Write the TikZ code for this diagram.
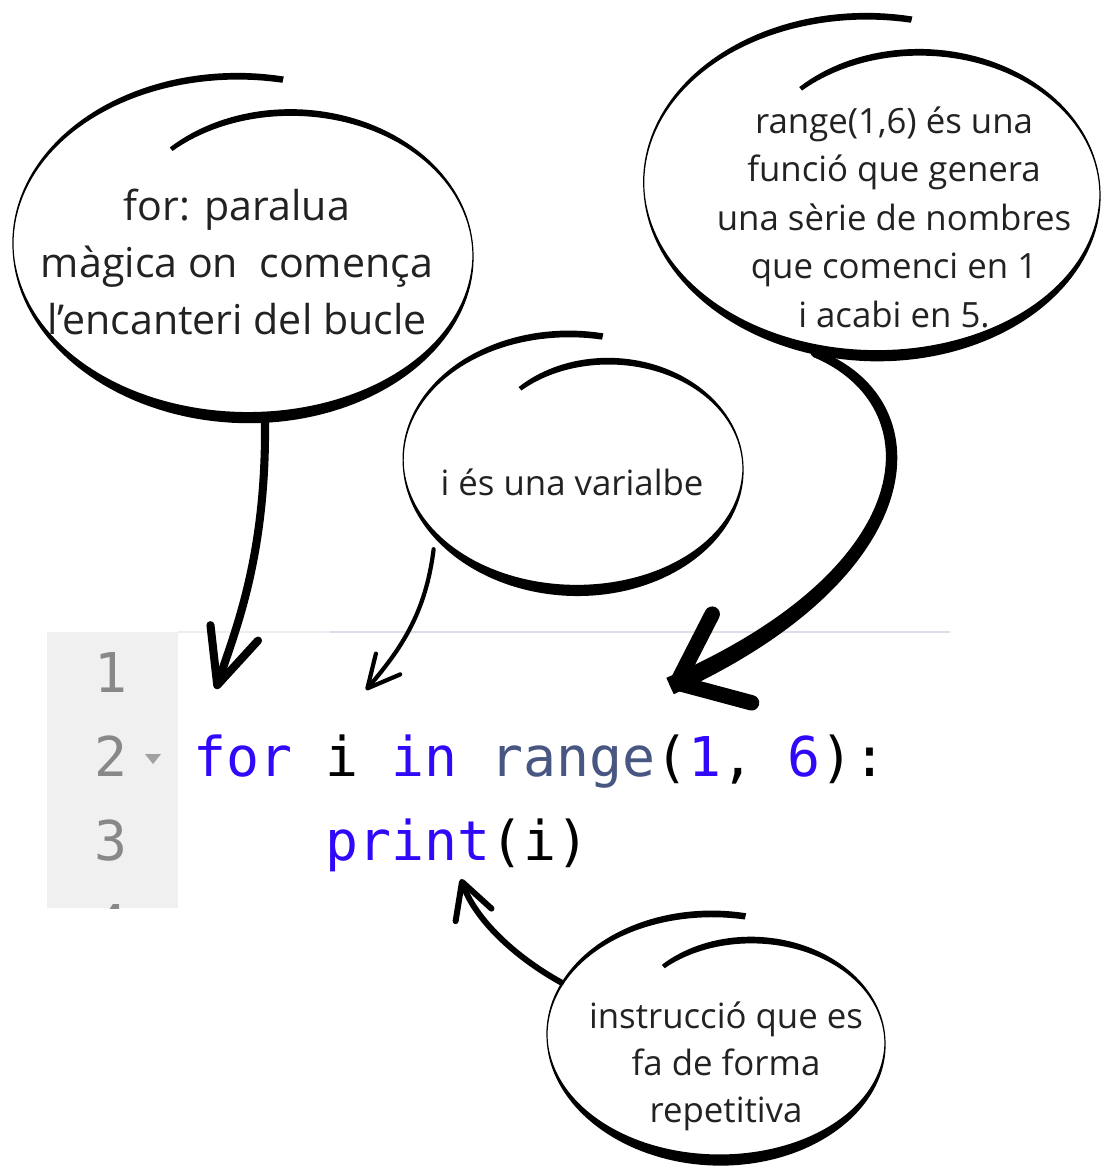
\documentclass[tikz,border=0pt]{standalone}
\usepackage{fontspec}
\setmainfont{Open Sans}
\newfontfamily\codefont{DejaVu Sans Mono}
\usetikzlibrary{arrows.meta,shapes.geometric,calc}
\definecolor{ink}{RGB}{34,34,34}
\definecolor{kwblue}{RGB}{48,8,250}
\definecolor{fnslate}{RGB}{72,86,130}
\definecolor{gutter}{RGB}{240,240,240}
\definecolor{lineno}{RGB}{136,136,136}
\definecolor{rulegray}{RGB}{218,222,230}
\tikzset{
  declare function={bubw(\a)=0.012+0.055*sin(\a)*sin(\a)+0.045*max(0,-sin(\a));
    bubf(\a)=(\a-77)/413;},
  bubble/.style={ellipse,draw=none,inner sep=0pt},
  note/.style={text=ink,align=center,font=\fontsize{9.9}{13.8}\selectfont},
  code/.style={font=\codefont\fontsize{15.6}{18}\selectfont,anchor=base west,inner sep=0pt},
  lnum/.style={font=\codefont\fontsize{15.6}{18}\selectfont,text=lineno,anchor=base,inner sep=0pt},
  scrawl/.style n args={3}{draw=black,line width=#1,line cap=round,
    -{Straight Barb[round,length=#2,width=#3]}},
  % hand drawn speech bubble: one spiral stroke, thin at the sides
  pics/spiral/.style n args={2}{code={
    \fill[black] plot[domain=77:490,samples=180,variable=\t]
      ({0.25*#1*bubf(\t)+(#1*(1-0.25*bubf(\t))+0.5*bubw(\t))*cos(\t)},
       {(#2*(1-0.23*bubf(\t))+0.5*bubw(\t))*sin(\t)})
      -- plot[domain=490:77,samples=180,variable=\t]
      ({0.25*#1*bubf(\t)+(#1*(1-0.25*bubf(\t))-0.5*bubw(\t))*cos(\t)},
       {(#2*(1-0.23*bubf(\t))-0.5*bubw(\t))*sin(\t)}) -- cycle;
  }},
}
\begin{document}
\begin{tikzpicture}
  \fill[white] (0,0) rectangle (11.02,-11.66);
  \useasboundingbox (0,0) rectangle (11.02,-11.66);
  % editor
  \fill[gutter] (0.47,-6.32) rectangle (1.78,-9.08);
  \draw[rulegray!50,line width=0.6pt] (1.78,-6.32) -- (3.30,-6.32);
  \draw[rulegray,line width=0.8pt] (3.30,-6.32) -- (9.50,-6.32);
  \foreach \n/\y in {1/6.92,2/7.76,3/8.60} \node[lnum] (ln\n) at (1.11,-\y) {\n};
  \begin{scope}
    \clip (0.47,-6.32) rectangle (1.78,-9.08);
    \node[lnum] (ln4) at (1.11,-9.44) {4};
  \end{scope}
  \fill[lineno!80] (1.45,-7.54) -- (1.61,-7.54) -- (1.53,-7.64) -- cycle;
  \node[code] (lineTwo) at (1.93,-7.76) {\textcolor{kwblue}{for} i \textcolor{kwblue}{in} \textcolor{fnslate}{range}(\textcolor{kwblue}{1}, \textcolor{kwblue}{6}):};
  \node[code] (lineThree) at (3.25,-8.60) {\textcolor{kwblue}{print}(i)};
  % bubbles
  \node[bubble,minimum width=4.9cm,minimum height=3.22cm] (forBub) at (2.28,-2.56) {};
  \node[bubble,minimum width=4.86cm,minimum height=3.2cm] (rangeBub) at (8.57,-1.95) {};
  \node[bubble,minimum width=3.4cm,minimum height=2.42cm] (iBub) at (5.62,-4.69) {};
  \node[bubble,minimum width=3.36cm,minimum height=2.32cm] (printBub) at (7.05,-10.435) {};
  \pic at (forBub.center) {spiral={2.45}{1.81}};
  \pic at (rangeBub.center) {spiral={2.43}{1.80}};
  \pic at (iBub.center) {spiral={1.81}{1.36}};
  \pic at (printBub.center) {spiral={1.80}{1.305}};
  \node[note,font=\fontsize{11.7}{16.2}\selectfont] (forNote) at (2.37,-2.62) {for: paralua\\màgica on\ \ comença\\l’encanteri del bucle};
  \node[note] (rangeNote) at (8.94,-2.17) {range(1,6) és una\\funció que genera\\una sèrie de nombres\\que comenci en 1\\i acabi en 5.};
  \node[note] (iNote) at (5.72,-4.82) {i és una varialbe};
  \node[note,font=\fontsize{9.9}{13.4}\selectfont] (printNote) at (7.26,-10.66) {instrucció que es\\fa de forma\\repetitiva};
  % arrows
  \coordinate (forTip) at (2.16,-6.89);
  \coordinate (iTip) at (3.66,-6.90);
  \coordinate (rangeTail) at (rangeBub.-105.7);
  \coordinate (rangeTip) at (6.70,-6.86);
  \coordinate (printTip) at (4.61,-8.79);
  \draw[scrawl={2.3pt}{5.5mm}{5mm}] (forBub.-77) .. controls +(-89:1.4) and +(72:0.6) .. (forTip);
  \draw[scrawl={1.2pt}{3.2mm}{3.2mm}] (iBub.-148) .. controls +(-0.08,-0.65) and +(0.34,0.40) .. (iTip);
  \fill ($(rangeTail)+(0.015,0.037)$) .. controls ($(rangeTail)+(1.284,-0.432)$) and ($(rangeTip)+(2.693,1.125)$) .. ($(rangeTip)+(0.037,-0.082)$)
    -- ($(rangeTip)+(-0.037,0.082)$) .. controls ($(rangeTip)+(2.527,1.195)$) and ($(rangeTail)+(1.156,-0.528)$) .. ($(rangeTail)+(-0.015,-0.037)$) -- cycle;
  \draw[line width=2.2pt,line cap=round,-{Straight Barb[round,length=6mm,width=9.7mm,line width=4.4pt]}] (rangeTail) .. controls +(1.22,-0.48) and +(2.61,1.16) .. (rangeTip);
  \draw[scrawl={1.7pt}{3.5mm}{3.8mm}] (printBub.157) .. controls +(-0.47,0.26) and +(0.14,-0.40) .. (printTip);
\end{tikzpicture}
\end{document}
